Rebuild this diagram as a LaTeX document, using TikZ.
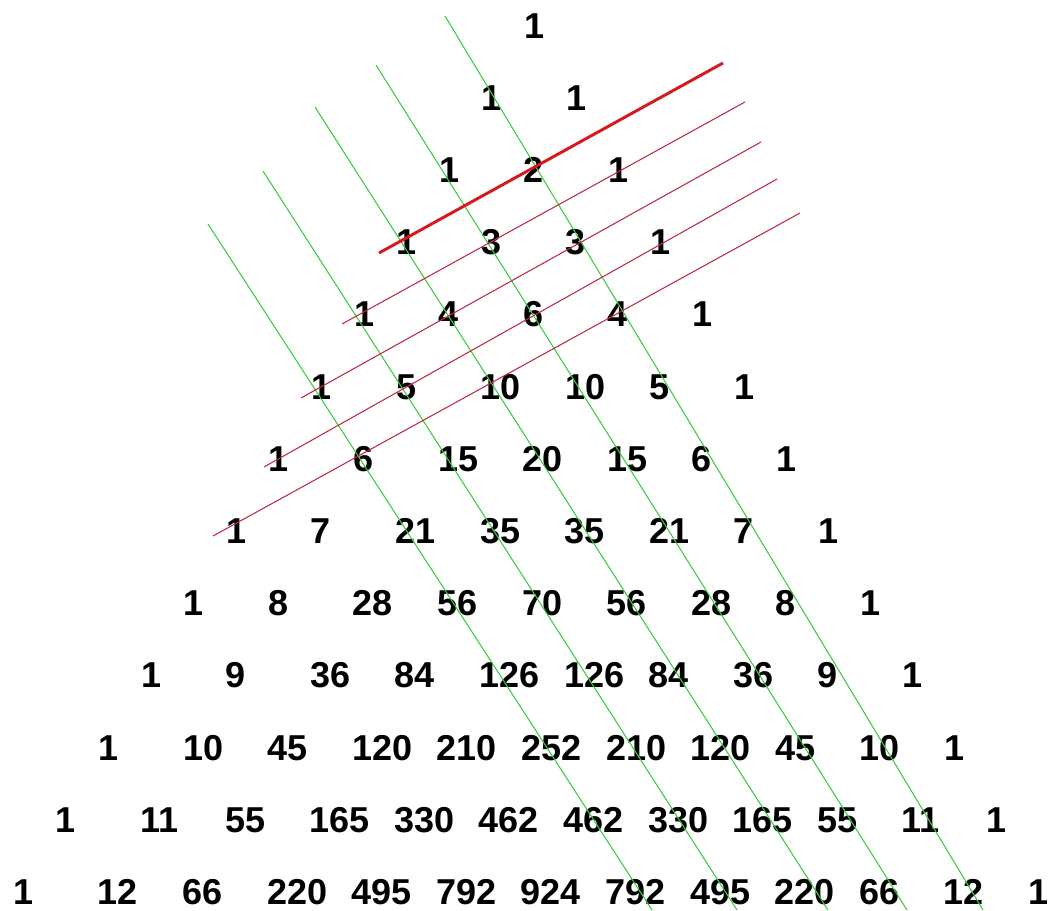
\documentclass[tikz,border=0pt]{standalone}
\usepackage{fontspec}
\setmainfont{Liberation Sans}
\usepackage{tikz}
\usetikzlibrary{positioning}
\definecolor{diaggreen}{HTML}{3CCB3C}
\definecolor{fibred}{HTML}{C02A44}
\definecolor{fibthick}{HTML}{D41A1A}
\tikzset{
  num/.style={anchor=base west, inner sep=0pt, font=\fontsize{27}{27}\selectfont\bfseries},
  diag/.style={diaggreen, line width=0.8pt},
  fib/.style={fibred, line width=0.8pt},
  fibmain/.style={fibthick, line width=2.2pt}
}
\begin{document}
\begin{tikzpicture}[x=0.75pt, y=-0.75pt]
  \useasboundingbox (0,0) rectangle (1056,910);
  % rows of the triangle, left-aligned on a half-step grid
  \foreach \row [count=\r from 0] in {{1},{1,1},{1,2,1},{1,3,3,1},{1,4,6,4,1},{1,5,10,10,5,1},
      {1,6,15,20,15,6,1},{1,7,21,35,35,21,7,1},{1,8,28,56,70,56,28,8,1},
      {1,9,36,84,126,126,84,36,9,1},{1,10,45,120,210,252,210,120,45,10,1},
      {1,11,55,165,330,462,462,330,165,55,11,1},{1,12,66,220,495,792,924,792,495,220,66,12,1}}
    \foreach \v [count=\k from 0] in \row
      \node[num] (n-\r-\k) at ({13+42.6*(12-\r)+84.6*\k}, {38+72.2*\r}) {\v};
  % green diagonals
  \foreach \i/\xa/\ya/\xb/\yb in {1/445/16/983/910, 2/376/65/907/910, 3/315/107/828/910,
      4/263/171/737/910, 5/208/224/652/910} {
    \coordinate (g\i s) at (\xa,\ya);
    \coordinate (g\i e) at (\xb,\yb);
    \draw[diag] (g\i s) -- (g\i e);
  }
  % red shallow diagonals
  \foreach \i/\xa/\ya/\xb/\yb in {2/342/324/745/102, 3/301/398/761/142,
      4/264/467/777/179, 5/213/536/800/213} {
    \coordinate (r\i s) at (\xa,\ya);
    \coordinate (r\i e) at (\xb,\yb);
    \draw[fib] (r\i s) -- (r\i e);
  }
  \coordinate (r1s) at (379,253);
  \coordinate (r1e) at (723,63);
  \draw[fibmain] (r1s) -- (r1e);
\end{tikzpicture}
\end{document}
